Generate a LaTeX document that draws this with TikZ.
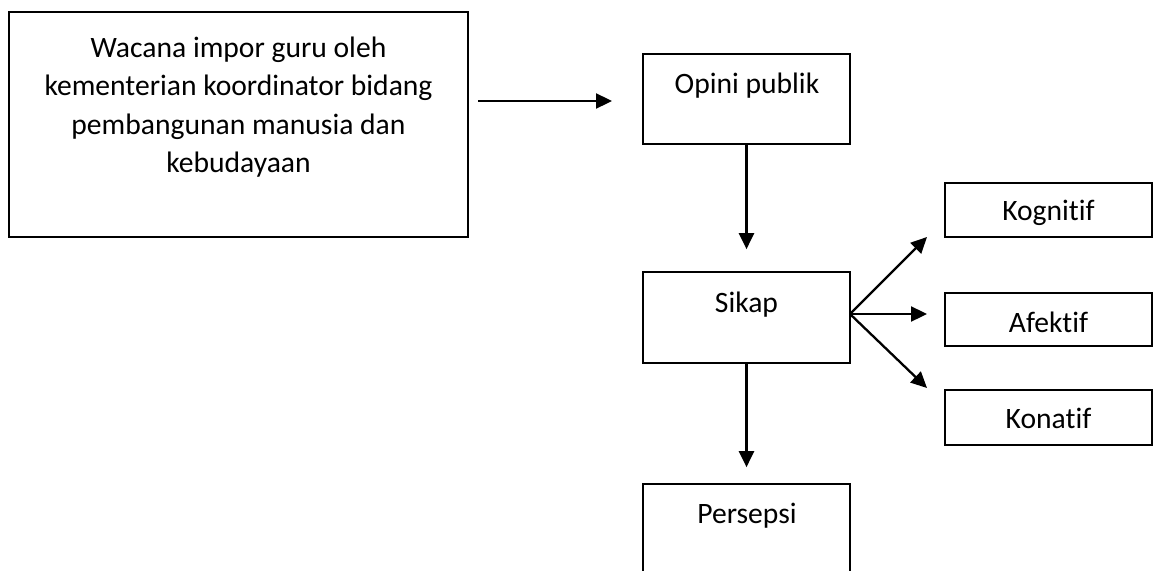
\documentclass[tikz,border=0pt]{standalone}
\usepackage{fontspec}
\setmainfont{Carlito}[Ligatures=NoCommon]
\usetikzlibrary{arrows.meta}
\begin{document}
\begin{tikzpicture}[x=1pt,y=-1pt,
  box/.style={draw=black,line width=1.7pt,inner sep=0pt,minimum width=207pt},
  lbl/.style={anchor=base,inner sep=0pt,font=\fontsize{29.6}{38.5}\selectfont},
  arr/.style={line width=2.3pt,-{Triangle[length=16pt,width=15pt]}}]
\useasboundingbox (0,0) rectangle (1158,570);
\clip (0,0) rectangle (1158,570);
% boxes
\node[box,minimum width=459pt,minimum height=225pt] (w) at (238.5,124.5) {};
\node[box,minimum height=90pt] (op) at (746.5,99) {};
\node[box,minimum height=91pt] (sk) at (746.5,317.5) {};
\node[box,minimum height=116pt] (ps) at (746.5,542) {};
\node[box,minimum height=54pt] (kg) at (1048.5,210) {};
\node[box,minimum height=53pt] (af) at (1048.5,319.5) {};
\node[box,minimum height=55pt] (kn) at (1048.5,417.5) {};
% texts
\node[lbl,align=center] (wt) at (238.5,172.5) {Wacana impor guru oleh\\kementerian koordinator bidang\\pembangunan manusia dan\\kebudayaan};
\node[lbl] (opt) at (747,93) {Opini publik};
\node[lbl] (skt) at (746.5,312) {Sikap};
\node[lbl] (pst) at (747,523) {Persepsi};
\node[lbl] (kgt) at (1048.5,220) {Kognitif};
\node[lbl] (aft) at (1048.5,332) {Afektif};
\node[lbl] (knt) at (1048.5,428) {Konatif};
% connector ends
\coordinate (a1s) at (478,101);
\coordinate (a1e) at (612,101);
\coordinate (fan) at (850,314);
\coordinate (tk) at (927,237);
\coordinate (ta) at (927,314);
\coordinate (tn) at (927,388);
% connectors
\draw[arr] (a1s) -- (a1e);
\draw[arr,shorten >=22pt] (op.south) -- (sk.north);
\draw[arr,shorten >=16pt] (sk.south) -- (ps.north);
\draw[arr] (fan) -- (tk);
\draw[arr] (fan) -- (ta);
\draw[arr] (fan) -- (tn);
\end{tikzpicture}
\end{document}
